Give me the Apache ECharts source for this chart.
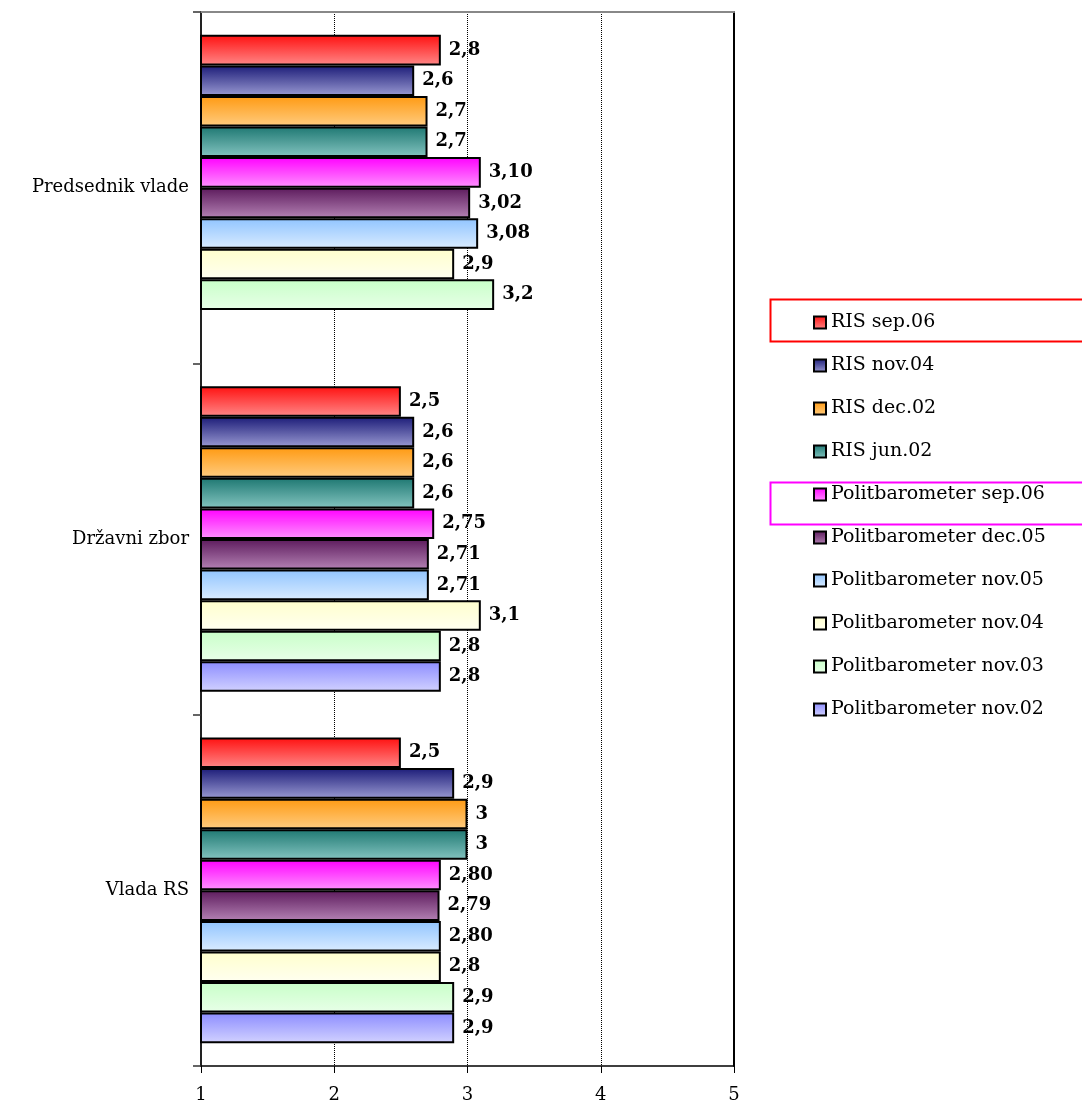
<!DOCTYPE html>
<html>
<head>
<meta charset="utf-8">
<script src="https://cdn.jsdelivr.net/npm/echarts@6/dist/echarts.min.js"></script>
<style>html,body{margin:0;padding:0;background:#fff}</style>
</head>
<body>
<div id="main" style="width:1082px;height:1113px"></div>
<script>
// categories, top to bottom
var categories = ['Predsednik vlade', 'Državni zbor', 'Vlada RS'];
var xTicks = [1, 2, 3, 4, 5];

// series names (legend order)
var seriesNames = [
  'RIS sep.06', 'RIS nov.04', 'RIS dec.02', 'RIS jun.02',
  'Politbarometer sep.06', 'Politbarometer dec.05', 'Politbarometer nov.05',
  'Politbarometer nov.04', 'Politbarometer nov.03', 'Politbarometer nov.02'
];

// values as printed (Predsednik vlade, Državni zbor, Vlada RS)
var risSep06 = ['2.8', '2.5', '2.5'];
var risNov04 = ['2.6', '2.6', '2.9'];
var risDec02 = ['2.7', '2.6', '3'];
var risJun02 = ['2.7', '2.6', '3'];
var pbSep06 = ['3.10', '2.75', '2.80'];
var pbDec05 = ['3.02', '2.71', '2.79'];
var pbNov05 = ['3.08', '2.71', '2.80'];
var pbNov04 = ['2.9', '3.1', '2.8'];
var pbNov03 = ['3.2', '2.8', '2.9'];
var pbNov02 = [null, '2.8', '2.9'];

var seriesValues = [risSep06, risNov04, risDec02, risJun02, pbSep06, pbDec05, pbNov05, pbNov04, pbNov03, pbNov02];

// gradient colours: top, bottom
var colorTop = ['#ff1010', '#1c1c78', '#ff9a12', '#1e7872', '#ff00ff', '#5c1a5c', '#90c4ff', '#ffffcc', '#c8ffc8', '#8c8cff'];
var colorBottom = ['#ff8888', '#9a9ad2', '#ffcc80', '#84c4c0', '#ff92ff', '#b482b4', '#daecff', '#fffff0', '#e8ffe8', '#d2d2ff'];

var serif = 'DejaVu Serif, serif';
var myChart = echarts.init(document.getElementById('main'));

var series = seriesNames.map(function (name, i) {
  var vals = seriesValues[i];
  return {
    name: name,
    type: 'bar',
    barGap: '0%',
    barCategoryGap: '13%',
    data: vals.map(function (v) { return v === null ? null : Number(v); }),
    itemStyle: {
      color: new echarts.graphic.LinearGradient(0, 0, 0, 1, [
        { offset: 0, color: colorTop[i] },
        { offset: 1, color: colorBottom[i] }
      ]),
      borderColor: '#000',
      borderWidth: 2
    },
    label: {
      show: true,
      position: 'right',
      distance: 8,
      color: '#000',
      fontFamily: serif,
      fontWeight: 'bold',
      fontSize: 18,
      formatter: function (p) {
        var s = vals[p.dataIndex];
        return s === null ? '' : s.replace('.', ',');
      }
    }
  };
});

var option = {
  animation: false,
  backgroundColor: '#fff',
  grid: { left: 201, right: 348, top: 12, bottom: 47 },
  legend: {
    orient: 'vertical',
    left: 808,
    top: 308,
    itemWidth: 12,
    itemHeight: 12,
    itemGap: 24,
    icon: 'rect',
    textStyle: { fontFamily: serif, fontSize: 19, color: '#000' },
    data: seriesNames
  },
  xAxis: [{
    type: 'value',
    min: 1,
    max: 5,
    interval: 1,
    axisLine: { show: true, lineStyle: { color: '#000', width: 1.5 } },
    axisTick: { show: true, length: 7, lineStyle: { color: '#000' } },
    axisLabel: {
      margin: 20, color: '#000', fontFamily: serif, fontSize: 18,
      formatter: function (v) { return xTicks.indexOf(v) >= 0 ? String(v) : ''; }
    },
    splitLine: { show: true, lineStyle: { color: '#000', type: 'dotted', width: 1 } }
  }, {
    type: 'value',
    position: 'top',
    min: 1,
    max: 5,
    axisLine: { show: true, lineStyle: { color: '#888', width: 2 } },
    axisTick: { show: false },
    axisLabel: { show: false },
    splitLine: { show: false }
  }],
  yAxis: [{
    type: 'category',
    inverse: true,
    data: categories,
    axisLine: { show: true, lineStyle: { color: '#222', width: 2 } },
    axisTick: { show: true, length: 8, lineStyle: { color: '#333', width: 1.5 } },
    axisLabel: { margin: 12, color: '#000', fontFamily: serif, fontSize: 18 }
  }, {
    type: 'category',
    position: 'right',
    inverse: true,
    data: categories,
    axisLine: { show: true, lineStyle: { color: '#000', width: 2 } },
    axisTick: { show: false },
    axisLabel: { show: false }
  }],
  graphic: [
    { type: 'rect', left: 768, top: 297, shape: { width: 330, height: 42 }, style: { fill: 'none', stroke: '#ff0000', lineWidth: 2 } },
    { type: 'rect', left: 768, top: 480, shape: { width: 330, height: 42 }, style: { fill: 'none', stroke: '#ff00ff', lineWidth: 2 } }
  ],
  series: series
};
myChart.setOption(option);
</script>
</body>
</html>
